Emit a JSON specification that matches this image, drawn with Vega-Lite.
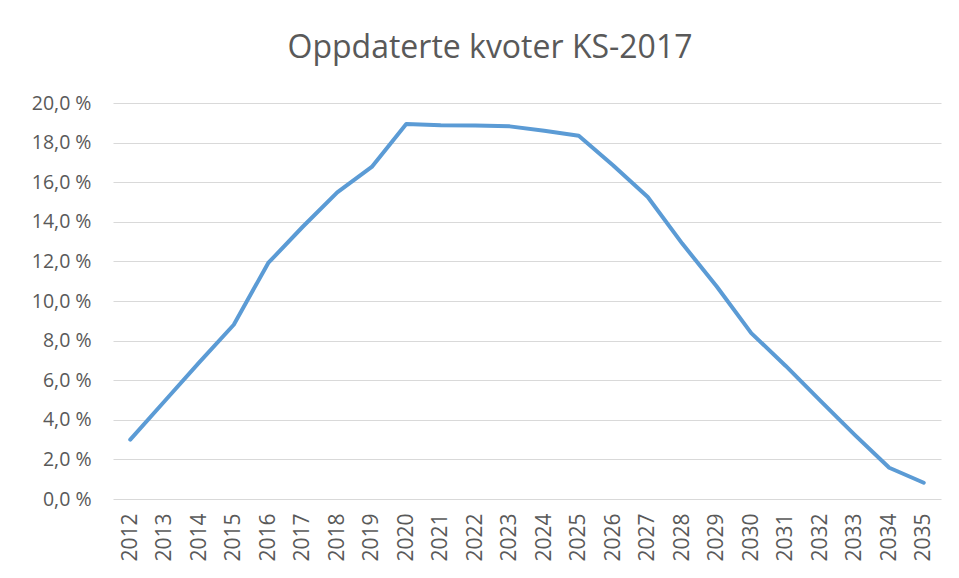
{
  "$schema": "https://vega.github.io/schema/vega-lite/v6.json",
  "width": 828,
  "height": 396,
  "autosize": {"type": "none"},
  "padding": {"left": 113, "top": 103, "right": 18, "bottom": 79},
  "background": "white",
  "title": {
    "text": "Oppdaterte kvoter KS-2017",
    "font": "Open Sans",
    "fontSize": 32,
    "fontWeight": "normal",
    "color": "#595959",
    "anchor": "middle",
    "dx": -37,
    "offset": 28
  },
  "data": {
    "values": [
      {"year": "2012", "kvote": 3.0},
      {"year": "2013", "kvote": 4.95},
      {"year": "2014", "kvote": 6.9},
      {"year": "2015", "kvote": 8.8},
      {"year": "2016", "kvote": 11.92},
      {"year": "2017", "kvote": 13.75},
      {"year": "2018", "kvote": 15.49},
      {"year": "2019", "kvote": 16.77},
      {"year": "2020", "kvote": 18.94},
      {"year": "2021", "kvote": 18.88},
      {"year": "2022", "kvote": 18.86},
      {"year": "2023", "kvote": 18.82},
      {"year": "2024", "kvote": 18.6},
      {"year": "2025", "kvote": 18.35},
      {"year": "2026", "kvote": 16.84},
      {"year": "2027", "kvote": 15.25},
      {"year": "2028", "kvote": 12.9},
      {"year": "2029", "kvote": 10.73},
      {"year": "2030", "kvote": 8.38},
      {"year": "2031", "kvote": 6.72},
      {"year": "2032", "kvote": 4.97},
      {"year": "2033", "kvote": 3.24},
      {"year": "2034", "kvote": 1.58},
      {"year": "2035", "kvote": 0.82}
    ]
  },
  "mark": {"type": "line", "color": "#5B9BD5", "strokeWidth": 4, "strokeJoin": "round", "strokeCap": "round"},
  "encoding": {
    "x": {
      "field": "year",
      "type": "ordinal",
      "scale": {"type": "point", "padding": 0.5},
      "axis": {
        "title": null,
        "labelAngle": -90,
        "labelFont": "Open Sans",
        "labelFontSize": 21,
        "labelColor": "#595959",
        "labelPadding": 14,
        "ticks": false,
        "domain": false,
        "grid": false
      }
    },
    "y": {
      "field": "kvote",
      "type": "quantitative",
      "scale": {"domain": [0, 20], "nice": false, "zero": true},
      "axis": {
        "title": null,
        "values": [0, 2, 4, 6, 8, 10, 12, 14, 16, 18, 20],
        "labelExpr": "replace(format(datum.value, '.1f'), '.', ',') + ' %'",
        "labelFont": "Open Sans",
        "labelFontSize": 19.5,
        "labelColor": "#595959",
        "labelPadding": 22,
        "ticks": false,
        "domain": false,
        "grid": true,
        "gridColor": "#d9d9d9",
        "gridWidth": 1.2
      }
    }
  },
  "config": {"view": {"stroke": null}}
}
